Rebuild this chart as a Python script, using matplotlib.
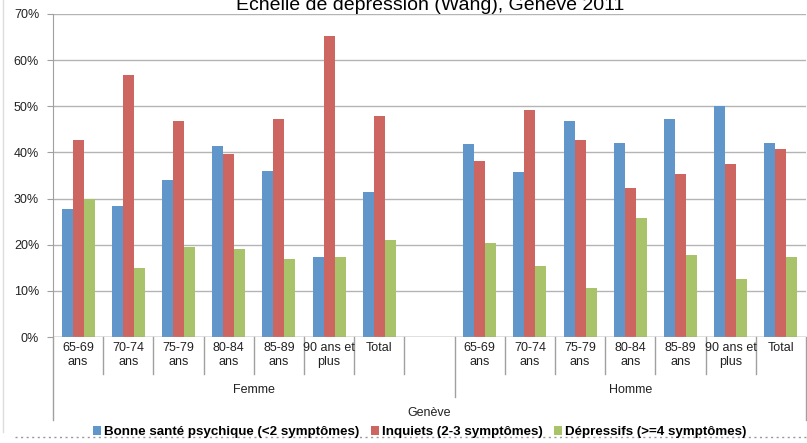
import matplotlib.pyplot as plt
from matplotlib.lines import Line2D
from matplotlib.patches import Patch

plt.rcParams['font.family'] = ['Liberation Sans', 'DejaVu Sans']

ages = ['65-69\nans', '70-74\nans', '75-79\nans', '80-84\nans', '85-89\nans', '90 ans et\nplus', 'Total']
groups = ['Femme', 'Homme']
series = ['Bonne santé psychique (<2 symptômes)', 'Inquiets (2-3 symptômes)', 'Dépressifs (>=4 symptômes)']

femme_bonne = [27.7, 28.4, 34.0, 41.5, 36.0, 17.4, 31.4]
femme_inquiets = [42.7, 56.8, 46.8, 39.7, 47.2, 65.2, 48.0]
femme_depressifs = [29.8, 15.0, 19.4, 19.0, 16.8, 17.4, 21.0]

homme_bonne = [41.8, 35.7, 46.8, 42.0, 47.2, 50.1, 42.0]
homme_inquiets = [38.1, 49.3, 42.7, 32.3, 35.3, 37.6, 40.7]
homme_depressifs = [20.3, 15.4, 10.7, 25.8, 17.7, 12.6, 17.4]

colors = ['#6096c9', '#cd6560', '#a8c36a']

W, H = 807, 443
fig = plt.figure(figsize=(W / 100, H / 100), dpi=100)
top_px, bot_px, left_px, right_px = 14, 337, 53, 806
ax = fig.add_axes([left_px / W, 1 - bot_px / H, (right_px - left_px) / W, (bot_px - top_px) / H])

# slots 0-6 Femme, 7 empty, 8-14 Homme
fx = list(range(7))
hx = [i + 8 for i in range(7)]
bw = 0.219
data = [(femme_bonne, homme_bonne), (femme_inquiets, homme_inquiets), (femme_depressifs, homme_depressifs)]
for k, (fv, hv) in enumerate(data):
    off = (k - 1) * bw
    ax.bar([x + off for x in fx], fv, bw, color=colors[k], edgecolor='none', zorder=3)
    ax.bar([x + off for x in hx], hv, bw, color=colors[k], edgecolor='none', zorder=3)

ax.set_xlim(-0.5, 14.5)
ax.set_ylim(0, 70)
ax.set_yticks(range(0, 71, 10))
ax.set_yticklabels([f'{v}%' for v in range(0, 71, 10)])
ax.tick_params(axis='y', length=4, color='#a0a0a0', labelsize=9, labelcolor='#222222', pad=6)
ax.set_xticks([])
ax.grid(axis='y', color='#b4b4b4', linewidth=1, zorder=0)
for s in ['top', 'right', 'bottom']:
    ax.spines[s].set_visible(False)
ax.spines['left'].set_color('#a0a0a0')
ax.axhline(0, color='#a0a0a0', linewidth=1, zorder=4)

# hierarchical category axis
trans = ax.get_xaxis_transform()
def ay(px):
    return (bot_px - px) / (bot_px - top_px)

def vline(x, y1, y2):
    ax.add_line(Line2D([x, x], [ay(y1), ay(y2)], transform=trans, color='#a0a0a0',
                       linewidth=1, clip_on=False))

for x, lab in zip(fx + hx, ages + ages):
    ax.text(x, ay(342), lab, transform=trans, ha='center', va='top', fontsize=9,
            linespacing=1.2, color='#222222')
for b in range(1, 15):
    if b == 8:
        vline(b - 0.5, bot_px, 397)
    else:
        vline(b - 0.5, bot_px, 374)
vline(-0.5, bot_px, 420)
vline(14.5, bot_px, 420)
ax.text(3.5, ay(390), groups[0], transform=trans, ha='center', va='center', fontsize=9, color='#222222')
ax.text(11, ay(390), groups[1], transform=trans, ha='center', va='center', fontsize=9, color='#222222')
ax.text(7, ay(413), 'Genève', transform=trans, ha='center', va='center', fontsize=9, color='#222222')

fig.text(0.533, 1 - 10 / H, 'Echelle de dépression (Wang), Genève 2011', ha='center',
         va='baseline', fontsize=14, color='#000000')

handles = [Patch(facecolor=c, edgecolor='none') for c in colors]
fig.legend(handles, series, loc='center', bbox_to_anchor=(0.52, 1 - 432 / H), ncol=3,
           frameon=False, prop={'weight': 'bold', 'size': 9.6}, handlelength=0.6,
           handleheight=0.6, handletextpad=0.2, columnspacing=0.9, borderpad=0)

# chart frame remnants
fig.add_artist(Line2D([3 / W, 3 / W], [1 - 0 / H, 1 - 432 / H], color='#dddddd', linewidth=1))
fig.add_artist(Line2D([15 / W, 1], [1 - 437 / H, 1 - 437 / H], color='#999999', linewidth=1,
                      linestyle=(0, (1.5, 2.5))))

fig.savefig('out.png', dpi=100)
